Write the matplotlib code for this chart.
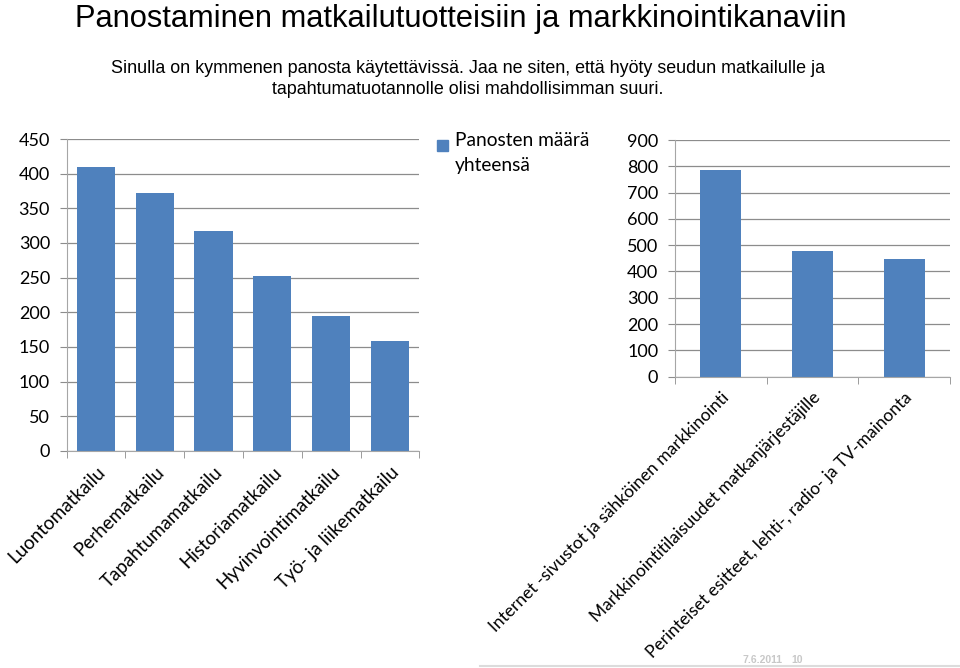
import matplotlib.pyplot as plt
from matplotlib.lines import Line2D
from matplotlib.patches import Rectangle

# data
products = ["Luontomatkailu", "Perhematkailu", "Tapahtumamatkailu",
            "Historiamatkailu", "Hyvinvointimatkailu", "Työ- ja liikematkailu"]
product_votes = [409, 372, 318, 252, 195, 159]

channels = ["Internet -sivustot ja sähköinen markkinointi",
            "Markkinointitilaisuudet matkanjärjestäjille",
            "Perinteiset esitteet, lehti-, radio- ja TV-mainonta"]
channel_votes = [785, 478, 447]

left_ticks = list(range(0, 451, 50))
right_ticks = list(range(0, 901, 100))

series_name = "Panosten määrä\nyhteensä"
title = "Panostaminen matkailutuotteisiin ja markkinointikanaviin"
subtitle = ("Sinulla on kymmenen panosta käytettävissä. Jaa ne siten, että hyöty seudun matkailulle ja\n"
            "tapahtumatuotannolle olisi mahdollisimman suuri.")

BLUE = "#4F81BD"
GRID = "#8c8c8c"
FONT = ["Lato", "DejaVu Sans"]

fig = plt.figure(figsize=(9.6, 6.68), dpi=100)


def style(ax, n, ticks, labels, fs_lab):
    ax.set_xlim(-0.5, n - 0.5)
    ax.set_ylim(0, ticks[-1])
    ax.set_yticks(ticks)
    ax.set_yticklabels([str(t) for t in ticks], fontsize=13, family=FONT)
    ax.grid(axis="y", color=GRID, linewidth=0.9)
    ax.set_axisbelow(True)
    for s in ["top", "right"]:
        ax.spines[s].set_visible(False)
    for s in ["left", "bottom"]:
        ax.spines[s].set_color("#a6a6a6")
    ax.tick_params(axis="y", length=5, color=GRID, pad=7)
    ax.set_xticks(range(n))
    ax.set_xticklabels(labels, rotation=45, ha="right", va="top",
                       rotation_mode="anchor", fontsize=fs_lab, family=FONT)
    ax.tick_params(axis="x", which="major", length=0, pad=9)
    ax.set_xticks([i - 0.5 for i in range(n + 1)], minor=True)
    ax.tick_params(axis="x", which="minor", length=5, color=GRID)


ax1 = fig.add_axes([0.0694, 0.3249, 0.3674, 0.467])
ax1.bar(range(len(products)), product_votes, width=0.65, color=BLUE)
style(ax1, len(products), left_ticks, products, 13.5)

ax2 = fig.add_axes([0.7031, 0.4361, 0.2865, 0.3543])
ax2.bar(range(len(channels)), channel_votes, width=0.45, color=BLUE)
style(ax2, len(channels), right_ticks, channels, 12.5)

# legend: square next to the first line of the series name
fig.add_artist(Rectangle((437 / 960, 1 - 151 / 668), 11 / 960, 11 / 668,
                         transform=fig.transFigure, color=BLUE))
fig.text(455 / 960, 1 - 132 / 668, series_name, fontsize=13.8, family=FONT,
         va="top", linespacing=1.55)

fig.text(0.078, 0.994, title, fontsize=22.2, family="Liberation Sans", va="top")
fig.text(0.487, 0.91, subtitle, fontsize=12.9, family="Liberation Sans",
         ha="center", va="top", linespacing=1.3)

fig.text(0.773, 0.008, "7.6.2011", fontsize=7.5, color="#c8c8c8",
         family="Liberation Sans", weight="bold")
fig.text(0.824, 0.008, "10", fontsize=7.5, color="#c8c8c8",
         family="Liberation Sans", weight="bold")
fig.add_artist(Line2D([0.5, 1.0], [0.003, 0.003], color="#dcdcdc", linewidth=1.5))

fig.savefig("out.png", dpi=100)
